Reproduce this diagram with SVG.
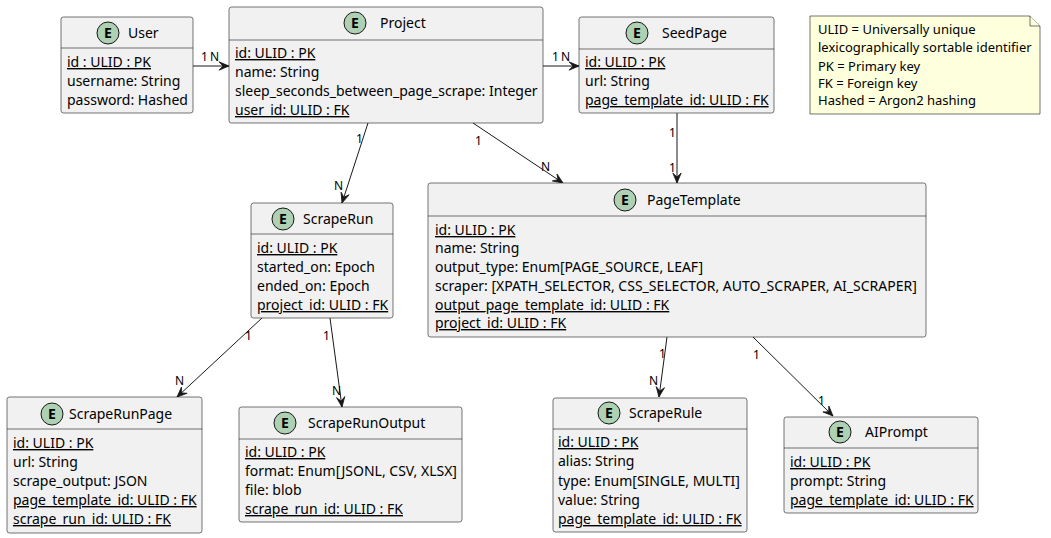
<svg xmlns="http://www.w3.org/2000/svg" width="1051" height="538" viewBox="0 0 1051 538">
<style>
.box{fill:#F1F1F1;stroke:#181818;stroke-width:0.6}
.sep{stroke:#181818;stroke-width:0.6}
.circ{fill:#ADD1B2;stroke:#181818;stroke-width:1}
.e{font-family:"Noto Sans","Liberation Sans",sans-serif;font-size:14px;font-weight:bold;fill:#000;text-anchor:middle}
.t{font-family:"Noto Sans","Liberation Sans",sans-serif;font-size:14px;fill:#000}
.a{font-family:"Noto Sans","Liberation Sans",sans-serif;font-size:14px;fill:#000}
.n{font-family:"Noto Sans","Liberation Sans",sans-serif;font-size:13px;fill:#000}
.u{text-decoration:underline}
.l{font-family:"Noto Sans","Liberation Sans",sans-serif;font-size:12px;fill:#000}
.c{fill:none;stroke:#181818;stroke-width:1}
.note{fill:#FEFFDD;stroke:#181818;stroke-width:0.6}
</style>
<defs>
<marker id="arr" viewBox="0 0 12 10" refX="11" refY="5" markerWidth="12" markerHeight="10" markerUnits="userSpaceOnUse" orient="auto">
<path d="M1,0.8 L11,5 L1,9.2 L5,5 Z" fill="#181818" stroke="#181818" stroke-width="0.8" stroke-linejoin="miter"/>
</marker>
</defs>

<g id="connectors">
<line class="c" x1="193" y1="66" x2="229" y2="66" marker-end="url(#arr)"/>
<text class="l" x="201" y="61">1</text><text class="l" x="210" y="61">N</text>
<line class="c" x1="543" y1="66" x2="579" y2="66" marker-end="url(#arr)"/>
<text class="l" x="552" y="61">1</text><text class="l" x="561" y="61">N</text>
<line class="c" x1="368" y1="123" x2="342" y2="203" marker-end="url(#arr)"/>
<text class="l" x="356" y="143">1</text><text class="l" x="334" y="190">N</text>
<line class="c" x1="473" y1="123" x2="563" y2="183" marker-end="url(#arr)"/>
<text class="l" x="475" y="145">1</text><text class="l" x="541" y="171">N</text>
<line class="c" x1="677" y1="113" x2="677" y2="183" marker-end="url(#arr)"/>
<text class="l" x="669" y="137">1</text><text class="l" x="669" y="172">1</text>
<line class="c" x1="262" y1="318" x2="177" y2="397" marker-end="url(#arr)"/>
<text class="l" x="245" y="340">1</text><text class="l" x="175" y="385">N</text>
<line class="c" x1="330" y1="318" x2="342" y2="407" marker-end="url(#arr)"/>
<text class="l" x="323" y="340">1</text><text class="l" x="332" y="395">N</text>
<line class="c" x1="667" y1="337" x2="659" y2="397" marker-end="url(#arr)"/>
<text class="l" x="659" y="358">1</text><text class="l" x="649" y="385">N</text>
<line class="c" x1="753" y1="337" x2="833" y2="416" marker-end="url(#arr)"/>
<text class="l" x="753" y="359">1</text><text class="l" x="818" y="405">1</text>
</g>

<g id="User">
<rect class="box" x="61" y="17" width="132" height="96" rx="2.5"/>
<line class="sep" x1="61" y1="48" x2="193" y2="48"/>
<circle class="circ" cx="108" cy="33" r="11"/><text class="e" x="108" y="38">E</text>
<text class="t" x="128" y="38">User</text>
<text class="a u" x="67" y="67">id : ULID : PK</text>
<text class="a" x="67" y="86">username: String</text>
<text class="a" x="67" y="105">password: Hashed</text>
</g>

<g id="Project">
<rect class="box" x="229" y="7" width="314" height="116" rx="2.5"/>
<line class="sep" x1="229" y1="40" x2="543" y2="40"/>
<circle class="circ" cx="355" cy="23" r="11"/><text class="e" x="355" y="28">E</text>
<text class="t" x="380" y="28">Project</text>
<text class="a u" x="235" y="58">id: ULID : PK</text>
<text class="a" x="235" y="77">name: String</text>
<text class="a" x="235" y="96">sleep_seconds_between_page_scrape: Integer</text>
<text class="a u" x="235" y="115">user_id: ULID : FK</text>
</g>

<g id="SeedPage">
<rect class="box" x="579" y="17" width="195" height="96" rx="2.5"/>
<line class="sep" x1="579" y1="49" x2="774" y2="49"/>
<circle class="circ" cx="637" cy="33" r="11"/><text class="e" x="637" y="38">E</text>
<text class="t" x="662" y="38">SeedPage</text>
<text class="a u" x="585" y="67">id: ULID : PK</text>
<text class="a" x="585" y="86">url: String</text>
<text class="a u" x="585" y="105">page_template_id: ULID : FK</text>
</g>

<g id="Note">
<path class="note" d="M810,16 L1030,16 L1040,26 L1040,114 L810,114 Z"/>
<path class="note" d="M1030,16 L1030,26 L1040,26"/>
<text class="n" x="818" y="34">ULID = Universally unique</text>
<text class="n" x="818" y="52">lexicographically sortable identifier</text>
<text class="n" x="818" y="71">PK = Primary key</text>
<text class="n" x="818" y="88">FK = Foreign key</text>
<text class="n" x="818" y="105">Hashed = Argon2 hashing</text>
</g>

<g id="ScrapeRun">
<rect class="box" x="251" y="203" width="142" height="115" rx="2.5"/>
<line class="sep" x1="251" y1="234" x2="393" y2="234"/>
<circle class="circ" cx="283" cy="219" r="11"/><text class="e" x="283" y="224">E</text>
<text class="t" x="303" y="224">ScrapeRun</text>
<text class="a u" x="257" y="253">id: ULID : PK</text>
<text class="a" x="257" y="272">started_on: Epoch</text>
<text class="a" x="257" y="291">ended_on: Epoch</text>
<text class="a u" x="257" y="310">project_id: ULID : FK</text>
</g>

<g id="PageTemplate">
<rect class="box" x="428" y="183" width="498" height="154" rx="2.5"/>
<line class="sep" x1="428" y1="216" x2="926" y2="216"/>
<circle class="circ" cx="625" cy="200" r="11"/><text class="e" x="625" y="205">E</text>
<text class="t" x="647" y="205">PageTemplate</text>
<text class="a u" x="435" y="235">id: ULID : PK</text>
<text class="a" x="435" y="253">name: String</text>
<text class="a" x="435" y="272">output_type: Enum[PAGE_SOURCE, LEAF]</text>
<text class="a" x="435" y="291">scraper: [XPATH_SELECTOR, CSS_SELECTOR, AUTO_SCRAPER, AI_SCRAPER]</text>
<text class="a u" x="435" y="310">output_page_template_id: ULID : FK</text>
<text class="a u" x="435" y="328">project_id: ULID : FK</text>
</g>

<g id="ScrapeRunPage">
<rect class="box" x="7" y="397" width="195" height="136" rx="2.5"/>
<line class="sep" x1="7" y1="429" x2="202" y2="429"/>
<circle class="circ" cx="52" cy="414" r="11"/><text class="e" x="52" y="419">E</text>
<text class="t" x="69" y="419">ScrapeRunPage</text>
<text class="a u" x="13" y="448">id: ULID : PK</text>
<text class="a" x="13" y="467">url: String</text>
<text class="a" x="13" y="486">scrape_output: JSON</text>
<text class="a u" x="13" y="505">page_template_id: ULID : FK</text>
<text class="a u" x="13" y="524">scrape_run_id: ULID : FK</text>
</g>

<g id="ScrapeRunOutput">
<rect class="box" x="239" y="407" width="223" height="115" rx="2.5"/>
<line class="sep" x1="239" y1="439" x2="462" y2="439"/>
<circle class="circ" cx="285" cy="423" r="11"/><text class="e" x="285" y="428">E</text>
<text class="t" x="308" y="428">ScrapeRunOutput</text>
<text class="a u" x="245" y="457">id: ULID : PK</text>
<text class="a" x="245" y="476">format: Enum[JSONL, CSV, XLSX]</text>
<text class="a" x="245" y="495">file: blob</text>
<text class="a u" x="245" y="514">scrape_run_id: ULID : FK</text>
</g>

<g id="ScrapeRule">
<rect class="box" x="553" y="398" width="194" height="134" rx="2.5"/>
<line class="sep" x1="553" y1="429" x2="747" y2="429"/>
<circle class="circ" cx="609" cy="413" r="11"/><text class="e" x="609" y="418">E</text>
<text class="t" x="629" y="418">ScrapeRule</text>
<text class="a u" x="558" y="447">id: ULID : PK</text>
<text class="a" x="558" y="466">alias: String</text>
<text class="a" x="558" y="486">type: Enum[SINGLE, MULTI]</text>
<text class="a" x="558" y="505">value: String</text>
<text class="a u" x="558" y="524">page_template_id: ULID : FK</text>
</g>

<g id="AIPrompt">
<rect class="box" x="784" y="417" width="194" height="96" rx="2.5"/>
<line class="sep" x1="784" y1="448" x2="978" y2="448"/>
<circle class="circ" cx="840" cy="432" r="11"/><text class="e" x="840" y="437">E</text>
<text class="t" x="865" y="437">AIPrompt</text>
<text class="a u" x="790" y="467">id: ULID : PK</text>
<text class="a" x="790" y="486">prompt: String</text>
<text class="a u" x="790" y="505">page_template_id: ULID : FK</text>
</g>
</svg>
